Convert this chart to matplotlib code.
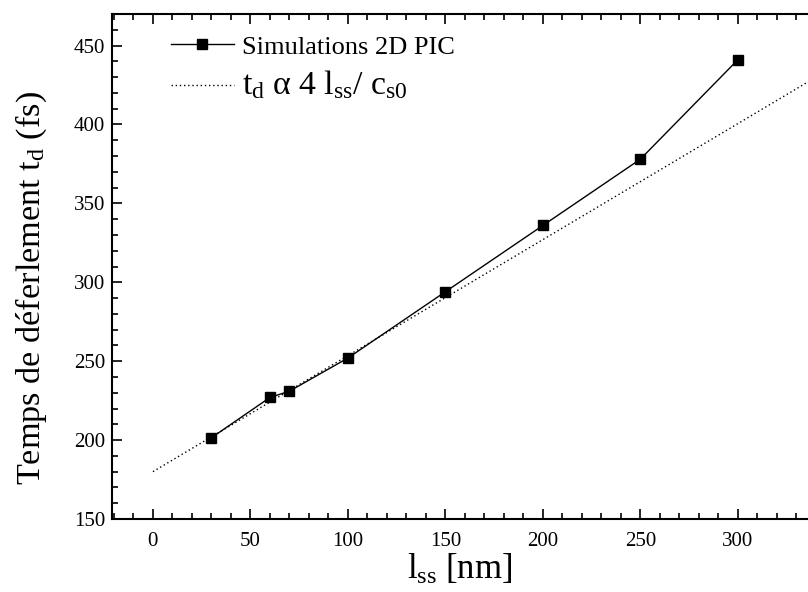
import numpy as np
import matplotlib.pyplot as plt
from matplotlib.ticker import MultipleLocator

plt.rcParams['font.family'] = ['Liberation Serif', 'DejaVu Serif']
plt.rcParams['mathtext.fontset'] = 'custom'
plt.rcParams['mathtext.rm'] = 'Liberation Serif'
plt.rcParams['mathtext.it'] = 'Liberation Serif:italic'

# simulations
l_ss = [30, 60, 70, 100, 150, 200, 250, 300]
t_d = [201.5, 227, 231, 252, 294, 336, 378, 441]

# loi t_d ~ 4 l_ss / c_s0
fit_x = [0, 336]
fit_y = [180, 427]

fig = plt.figure(figsize=(8.08, 5.92), dpi=100)
ax = fig.add_axes([0.1386, 0.1233, 0.8614, 0.853])

ax.plot(l_ss, t_d, color='black', lw=1, marker='s', markersize=7,
        label='Simulations 2D PIC')
ax.plot(fit_x, fit_y, color='black', lw=1, ls=(0, (1, 2)),
        label=r'$\mathrm{t_d\ \alpha\ 4\ l_{ss}/\ c_{s0}}$')

ax.set_xlim(-21, 336)
ax.set_ylim(150, 470)
ax.xaxis.set_major_locator(MultipleLocator(50))
ax.xaxis.set_minor_locator(MultipleLocator(10))
ax.yaxis.set_major_locator(MultipleLocator(50))
ax.yaxis.set_minor_locator(MultipleLocator(10))
ax.tick_params(which='both', direction='in', top=True, right=False, labelsize=15, width=1.2)
ax.tick_params(which='major', length=7)
ax.tick_params(which='minor', length=4)
ax.tick_params(axis='x', pad=9)
ax.tick_params(axis='y', pad=5)
for s in ['left', 'bottom', 'top']:
    ax.spines[s].set_linewidth(1.5)
ax.spines['right'].set_visible(False)

ax.set_xlabel(r'l$_\mathrm{ss}$ [nm]', fontsize=25, labelpad=2)
ax.set_ylabel(r'Temps de déferlement t$_\mathrm{d}$ (fs)', fontsize=24.7)
ax.yaxis.set_label_coords(-0.09, 0.457)

leg = ax.legend(loc='upper left', bbox_to_anchor=(0.05, 1.005), frameon=False,
                handlelength=2.4, handletextpad=0.3, labelspacing=0.35, fontsize=19)
leg.get_texts()[1].set_fontsize(24.4)

fig.savefig('out.png', dpi=100)
